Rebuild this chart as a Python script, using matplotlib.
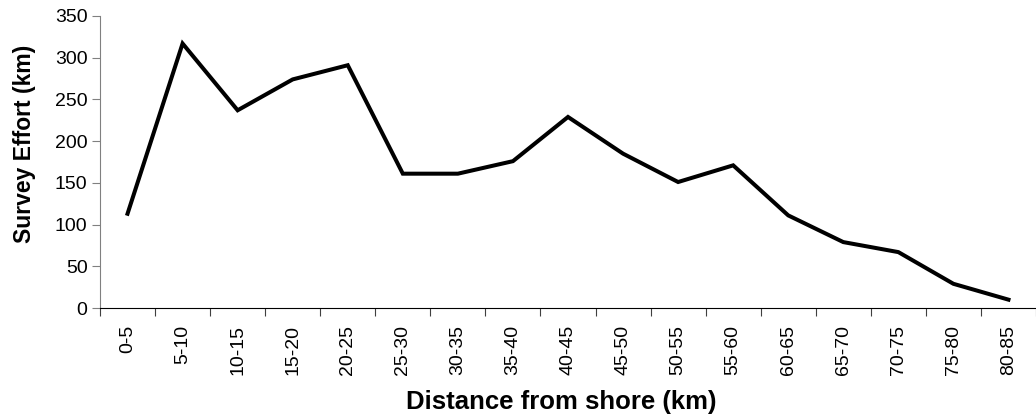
import matplotlib
matplotlib.use("Agg")
import matplotlib.pyplot as plt

categories = ["0-5", "5-10", "10-15", "15-20", "20-25", "25-30", "30-35", "35-40",
              "40-45", "45-50", "50-55", "55-60", "60-65", "65-70", "70-75", "75-80", "80-85"]
effort = [113, 317, 237, 274, 291, 161, 161, 176, 229, 185, 151, 171, 111, 79, 67, 29, 10]
y_ticks = [0, 50, 100, 150, 200, 250, 300, 350]

plt.rcParams['font.family'] = ['Liberation Sans', 'DejaVu Sans']

W, H = 1036, 419
fig = plt.figure(figsize=(W / 100, H / 100), dpi=100)
ax = fig.add_axes([100 / W, 1 - 308 / H, (W - 100) / W, (308 - 16) / H])

x = list(range(len(categories)))
ax.plot(x, effort, color='black', linewidth=2.9, solid_joinstyle='miter')

ax.set_ylim(0, 350)
ax.set_xlim(-0.5, 16.37)
ax.set_yticks(y_ticks)
ax.set_yticklabels([str(v) for v in y_ticks], fontsize=14)

ax.set_xticks([i - 0.5 for i in range(len(categories) + 1)])
ax.set_xticklabels([])
ax.set_xticks(x, minor=True)
ax.set_xticklabels(categories, minor=True, rotation=90, fontsize=14)
ax.tick_params(axis='x', which='minor', length=0, pad=12)
ax.tick_params(axis='x', which='major', length=6, direction='out', color='#404040')
ax.tick_params(axis='y', length=6, direction='out', pad=3, color='#808080')

for s in ['top', 'right']:
    ax.spines[s].set_visible(False)
ax.spines['left'].set_color('#808080')
ax.spines['bottom'].set_color('black')

ax.set_ylabel('Survey Effort (km)', fontsize=16.5, fontweight='bold')
ax.yaxis.set_label_coords(25 / W, 1 - 144 / H, transform=fig.transFigure)
ax.set_xlabel('Distance from shore (km)', fontsize=18.5, fontweight='bold')
ax.xaxis.set_label_coords(561 / W, 1 - 402 / H, transform=fig.transFigure)
ax.xaxis.label.set_va('center')
ax.yaxis.label.set_va('center')

fig.savefig('out.png', dpi=100)
